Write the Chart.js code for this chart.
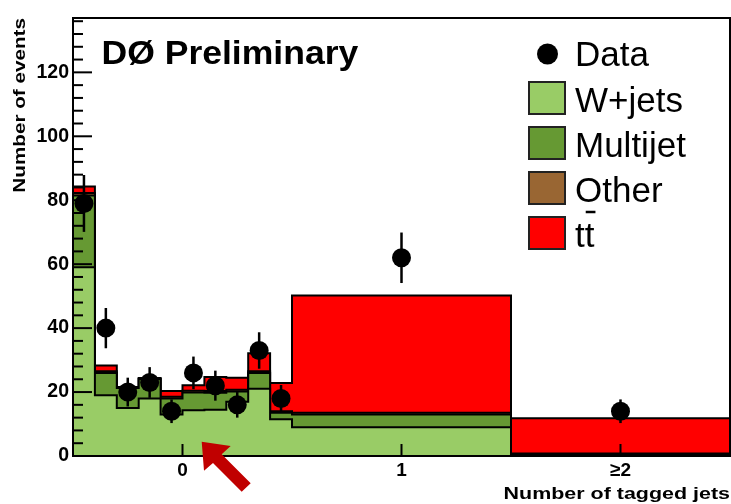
<!DOCTYPE html>
<html>
<head>
<meta charset="utf-8">
<script src="https://cdn.jsdelivr.net/npm/chart.js@4.4.0/dist/chart.umd.min.js"></script>
<style>
html, body { margin: 0; padding: 0; background: #fff; }
#wrap { width: 731px; height: 504px; }
</style>
</head>
<body>
<div id="wrap"><canvas id="graphCanvas" width="731" height="504"></canvas></div>
<script>
// bin edges: 0-tag bin split in ten, then 1 tag and >=2 tags
var binEdges = [-0.5, -0.4, -0.3, -0.2, -0.1, 0, 0.1, 0.2, 0.3, 0.4, 0.5, 1.5, 2.5];
var wjets    = [59, 19, 15, 18, 13, 14.3, 14.5, 17, 21, 11.5, 9, 0.3];
var multijet = [22.5, 7, 6.3, 6.1, 5, 5.6, 5.3, 3.2, 5, 2, 4, 0.3];
var other    = [0.8, 0.5, 0.1, 0.1, 0.5, 0.5, 0.5, 0.5, 0.5, 0.5, 0.5, 0.2];
var ttbar    = [2, 1.8, 0.2, 0.2, 1.8, 1.7, 4.4, 3.8, 5.6, 8.8, 36.7, 11];

var dataX   = [-0.45, -0.35, -0.25, -0.15, -0.05, 0.05, 0.15, 0.25, 0.35, 0.45, 1, 2];
var dataY   = [79, 40, 20, 23, 14, 26, 22, 16, 33, 18, 62, 14];
var dataErr = [8.9, 6.3, 4.5, 4.8, 3.7, 5.1, 4.7, 4, 5.7, 4.2, 7.9, 3.7];

var xTickValues = [0, 1, 2];
var xTickLabels = ['0', '1', '\u22652'];

var legendNames  = ['W+jets', 'Multijet', 'Other', 'tt'];
var legendColors = ['rgb(153,204,102)', 'rgb(102,153,51)', 'rgb(153,102,51)', 'rgb(255,0,0)'];

function stackUp(lists) {
  var out = [];
  for (var i = 0; i < lists[0].length; i++) {
    var s = 0;
    for (var k = 0; k < lists.length; k++) s += lists[k][i];
    out.push(s);
  }
  return out;
}

function histPoints(vals) {
  var pts = [];
  for (var i = 0; i < vals.length; i++) pts.push({x: binEdges[i], y: vals[i]});
  pts.push({x: binEdges[binEdges.length - 1], y: vals[vals.length - 1]});
  return pts;
}

function histSet(label, vals, color, order) {
  return {
    label: label,
    data: histPoints(vals),
    stepped: 'before',
    fill: 'origin',
    backgroundColor: color,
    borderColor: '#000',
    borderWidth: 2,
    pointRadius: 0,
    order: order
  };
}

var dataPoints = [];
for (var i = 0; i < dataX.length; i++) dataPoints.push({x: dataX[i], y: dataY[i]});

var decor = {
  id: 'decor',
  afterDatasetsDraw: function(chart) {
    var ctx = chart.ctx, xs = chart.scales.x, ys = chart.scales.y;
    ctx.save();
    ctx.strokeStyle = '#000';
    ctx.lineWidth = 2.5;
    for (var i = 0; i < dataX.length; i++) {
      var px = xs.getPixelForValue(dataX[i]);
      ctx.beginPath();
      ctx.moveTo(px, ys.getPixelForValue(dataY[i] - dataErr[i]));
      ctx.lineTo(px, ys.getPixelForValue(dataY[i] + dataErr[i]));
      ctx.stroke();
    }
    ctx.restore();
  },
  afterDraw: function(chart) {
    var ctx = chart.ctx, xs = chart.scales.x, ys = chart.scales.y;
    var a = chart.chartArea;
    ctx.save();
    ctx.strokeStyle = '#000';
    ctx.lineWidth = 2;

    // ticks drawn inside the frame, ROOT style
    for (var v = 0; v <= ys.max; v += 4) {
      var py = ys.getPixelForValue(v);
      ctx.beginPath();
      ctx.moveTo(a.left, py);
      ctx.lineTo(a.left + (v % 20 === 0 ? 19 : 10), py);
      ctx.stroke();
    }
    for (var j = 0; j < xTickValues.length; j++) {
      var px = xs.getPixelForValue(xTickValues[j]);
      ctx.beginPath();
      ctx.moveTo(px, a.bottom);
      ctx.lineTo(px, a.bottom - 12);
      ctx.stroke();
    }
    ctx.strokeRect(a.left, a.top, a.right - a.left, a.bottom - a.top);

    ctx.fillStyle = '#000';
    ctx.textBaseline = 'alphabetic';

    // axis titles
    ctx.save();
    ctx.translate(730, 498.5);
    ctx.scale(1.3, 1);
    ctx.font = 'bold 16.5px "Liberation Sans", Arial, sans-serif';
    ctx.textAlign = 'right';
    ctx.fillText('Number of tagged jets', 0, 0);
    ctx.restore();

    ctx.save();
    ctx.translate(25, 18);
    ctx.rotate(-Math.PI / 2);
    ctx.scale(1.27, 1);
    ctx.font = 'bold 16.3px "Liberation Sans", Arial, sans-serif';
    ctx.textAlign = 'right';
    ctx.fillText('Number of events', 0, 0);
    ctx.restore();

    // experiment label
    ctx.save();
    ctx.translate(101.5, 63.5);
    ctx.scale(1.077, 1);
    ctx.font = 'bold 33px "Liberation Sans", Arial, sans-serif';
    ctx.textAlign = 'left';
    ctx.fillText('D\u00d8 Preliminary', 0, 0);
    ctx.restore();

    // legend
    ctx.font = '35px "Liberation Sans", Arial, sans-serif';
    ctx.textAlign = 'left';
    ctx.beginPath();
    ctx.arc(547.5, 54, 10.5, 0, Math.PI * 2);
    ctx.fill();
    ctx.fillText('Data', 575, 66);
    for (var k = 0; k < legendNames.length; k++) {
      var top = 82 + k * 45;
      ctx.fillStyle = legendColors[k];
      ctx.fillRect(529, top, 36, 32);
      ctx.strokeStyle = '#222';
      ctx.lineWidth = 2;
      ctx.strokeRect(529, top, 36, 32);
      ctx.fillStyle = '#000';
      ctx.fillText(legendNames[k], 575, top + 29.5);
    }
    // bar over the second t of tt
    var tW = ctx.measureText('t').width;
    var ttY = 82 + 3 * 45 - 5;
    ctx.lineWidth = 2.5;
    ctx.strokeStyle = '#000';
    ctx.beginPath();
    ctx.moveTo(575 + tW + 1, ttY);
    ctx.lineTo(575 + 2 * tW + 1, ttY);
    ctx.stroke();

    // arrow annotation
    ctx.fillStyle = 'rgb(192,0,0)';
    ctx.beginPath();
    ctx.moveTo(201.7, 441.7);
    ctx.lineTo(230.7, 446);
    ctx.lineTo(221.7, 454.2);
    ctx.lineTo(250.7, 483.3);
    ctx.lineTo(241.7, 491.7);
    ctx.lineTo(213, 462.9);
    ctx.lineTo(204, 470.7);
    ctx.closePath();
    ctx.fill();
    ctx.restore();
  }
};

var canvas = document.getElementById('graphCanvas').getContext('2d');

var chart = new Chart(canvas, {
  type: 'line',
  data: {
    datasets: [
      {
        label: 'Data',
        data: dataPoints,
        showLine: false,
        pointRadius: 9.5,
        pointBackgroundColor: '#000',
        pointBorderWidth: 0,
        order: 0
      },
      histSet('W+jets', wjets, legendColors[0], 1),
      histSet('Multijet', stackUp([wjets, multijet]), legendColors[1], 2),
      histSet('Other', stackUp([wjets, multijet, other]), legendColors[2], 3),
      histSet('ttbar', stackUp([wjets, multijet, other, ttbar]), legendColors[3], 4)
    ]
  },
  options: {
    responsive: false,
    animation: false,
    devicePixelRatio: 1,
    layout: { autoPadding: false, padding: { left: 0, top: 18, right: 1, bottom: 0 } },
    plugins: { legend: { display: false }, tooltip: { enabled: false } },
    scales: {
      x: {
        type: 'linear',
        min: -0.5,
        max: 2.5,
        grid: { display: false, drawTicks: false },
        border: { display: false },
        afterBuildTicks: function(scale) {
          scale.ticks = xTickValues.map(function(v) { return {value: v}; });
        },
        afterFit: function(scale) {
          scale.height = 48;
          scale.paddingLeft = 0;
          scale.paddingRight = 0;
        },
        ticks: {
          padding: 3,
          color: '#000',
          font: { family: '"Liberation Sans", Arial, sans-serif', size: 19, weight: 'bold' },
          callback: function(value, index) { return xTickLabels[index]; }
        }
      },
      y: {
        min: 0,
        max: 137,
        grid: { display: false, drawTicks: false },
        border: { display: false },
        afterFit: function(scale) {
          scale.width = 73;
          scale.paddingTop = 0;
          scale.paddingBottom = 0;
        },
        ticks: {
          stepSize: 20,
          includeBounds: false,
          padding: 4,
          color: '#000',
          font: { family: '"Liberation Sans", Arial, sans-serif', size: 19.5, weight: 'bold' }
        }
      }
    }
  },
  plugins: [decor]
});
</script>
</body>
</html>
